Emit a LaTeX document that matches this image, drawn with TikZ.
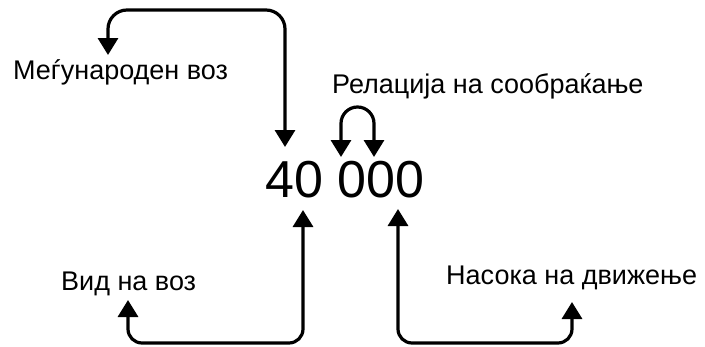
\documentclass[tikz,border=0pt]{standalone}
\usepackage{fontspec}
\setmainfont{Liberation Sans}
\usetikzlibrary{arrows.meta}
\begin{document}
\begin{tikzpicture}[x=1pt,y=-1pt,
  lbl/.style={inner sep=0pt,anchor=base west,font=\fontsize{27}{30}\selectfont},
  big/.style={inner sep=0pt,anchor=base west,font=\fontsize{52}{56}\selectfont},
  conn/.style={line width=3.2pt,{Triangle[width=20pt,length=17pt]}-{Triangle[width=20pt,length=17pt]}}]
\useasboundingbox (0,0) rectangle (705,346);
\node[big] (num) at (265,197) {40 000};
\node[lbl] (intl) at (13,79) {Меѓународен воз};
\node[lbl] (rel) at (332,93) {Релација на сообраќање};
\node[lbl] (kind) at (61,290) {Вид на воз};
\node[lbl] (dir) at (446,284) {Насока на движење};
% top arrow
\coordinate (intlTip) at (108,55);
\coordinate (numTop) at (285,147);
\draw[conn,rounded corners=19pt] (intlTip) -- (108,10) -- (285,10) -- (numTop);
% small loop
\coordinate (relL) at (341,157);
\coordinate (relR) at (374,157);
\draw[conn] (relL) -- (341,123.5) arc[start angle=180,end angle=360,radius=16.5] -- (relR);
% bottom left
\coordinate (numBL) at (303,210);
\coordinate (kindTip) at (128,300);
\draw[conn,rounded corners=14pt] (numBL) -- (303,343) -- (128,343) -- (kindTip);
% bottom right
\coordinate (numBR) at (398,209);
\coordinate (dirTip) at (572,302);
\draw[conn,rounded corners=14pt] (numBR) -- (398,343) -- (572,343) -- (dirTip);
\end{tikzpicture}
\end{document}
